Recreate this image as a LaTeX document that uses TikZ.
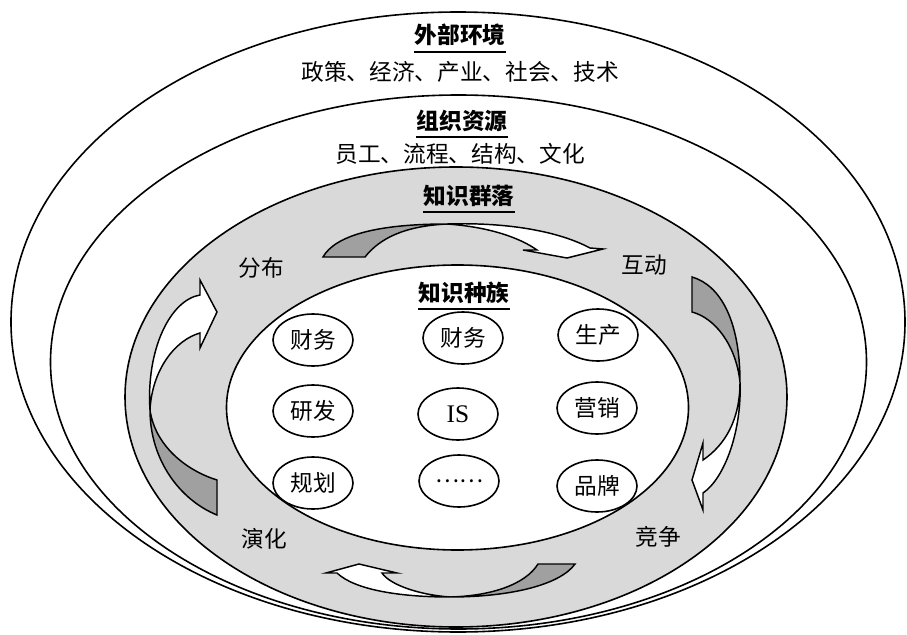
\documentclass[tikz,border=0pt]{standalone}
\usepackage{fontspec}
\setmainfont{Liberation Serif}
\newfontfamily\cjk{Noto Sans CJK SC}
\usetikzlibrary{shapes.geometric}
\definecolor{ringgray}{RGB}{217,217,217}
\definecolor{tailgray}{RGB}{160,160,160}
\begin{document}
\begin{tikzpicture}[x=0.75pt,y=-0.75pt,
  ring/.style={ellipse, draw, line width=1.2pt, inner sep=0pt},
  sp/.style={ellipse, draw, line width=1.2pt, minimum width=60pt, minimum height=39pt, inner sep=0pt, font=\cjk\fontsize{17}{20}\selectfont},
  lbl/.style={font=\cjk\fontsize{17}{20}\selectfont, inner sep=0pt},
  hdr/.style={font=\cjk\bfseries\fontsize{17}{20}\selectfont, inner sep=0pt},
  uline/.style={line width=1.5pt},
  arr/.style={draw, line width=1.1pt, line join=miter},
]
\useasboundingbox (0,0) rectangle (907,635);
% rings
\node[ring, fill=white, minimum width=670.5pt, minimum height=465pt] (env) at (458,322) {};
\node[ring, fill=white, minimum width=612pt, minimum height=400.5pt] (org) at (458.5,362) {};
\node[ring, fill=ringgray, minimum width=496.5pt, minimum height=345pt] (comm) at (456,397) {};
% arrows: top
\path[arr, fill=tailgray] (323,257) .. controls (335,236) and (375,224) .. (447,224)
  .. controls (405,226) and (380,238) .. (365,257) -- cycle;
\path[arr, fill=white] (447,224) .. controls (510,222) and (560,232) .. (590,248)
  -- (603,249) -- (567,258) -- (523,250) -- (537,250)
  .. controls (520,238) and (490,227) .. (447,224) -- cycle;
% right
\path[arr, fill=tailgray] (692,277) .. controls (720,285) and (740,320) .. (740,382)
  .. controls (736,345) and (715,318) .. (692,312) -- cycle;
\path[arr, fill=white] (740,382) .. controls (742,430) and (725,478) .. (703,493)
  -- (703,510) -- (692,480) -- (703,443) -- (703,460)
  .. controls (725,445) and (740,420) .. (740,382) -- cycle;
% left
\path[arr, fill=tailgray] (217,515) .. controls (180,500) and (150,460) .. (150,410)
  .. controls (155,445) and (185,470) .. (217,480) -- cycle;
\path[arr, fill=white] (150,410) .. controls (146,350) and (170,300) .. (200,295)
  -- (200,280) -- (217,312) -- (200,348) -- (200,333)
  .. controls (175,340) and (152,370) .. (150,410) -- cycle;
% bottom
\path[arr, fill=tailgray] (575,564) .. controls (560,585) and (510,597) .. (450,597)
  .. controls (490,596) and (525,585) .. (538,564) -- cycle;
\path[arr, fill=white] (450,597) .. controls (400,597) and (355,590) .. (337,573)
  -- (326,573) -- (359,564) -- (397,573) -- (382,573)
  .. controls (390,585) and (420,595) .. (450,597) -- cycle;
% inner population ellipse
\node[ring, fill=white, minimum width=346.5pt, minimum height=213.75pt] (pop) at (457.5,407.5) {};
% small ellipses
\node[sp] (f1) at (313,340) {财务};
\node[sp] (f2) at (463,338) {财务};
\node[sp] (f3) at (598,335) {生产};
\node[sp] (r1) at (313,411) {研发};
\node[sp, font=\rmfamily\fontsize{19}{22}\selectfont] (r2) at (458,414) {IS};
\node[sp] (r3) at (597,408) {营销};
\node[sp] (g1) at (313,483) {规划};
\node[sp] (g2) at (459,481) {……};
\node[sp] (g3) at (597,486) {品牌};
% headers
\node[hdr] (h1) at (460,35) {外部环境};
\draw[uline] ([yshift=-4pt]h1.south west) -- ([yshift=-4pt]h1.south east);
\node[lbl] (t1) at (460,72) {政策、经济、产业、社会、技术};
\node[hdr] (h2) at (462,121) {组织资源};
\draw[uline] ([yshift=-4pt]h2.south west) -- ([yshift=-4pt]h2.south east);
\node[lbl] (t2) at (460,154) {员工、流程、结构、文化};
\node[hdr] (h3) at (469,196) {知识群落};
\draw[uline] ([yshift=-4pt]h3.south west) -- ([yshift=-4pt]h3.south east);
\node[hdr] (h4) at (464,293) {知识种族};
\draw[uline] ([yshift=-4pt]h4.south west) -- ([yshift=-4pt]h4.south east);
% ring labels
\node[lbl] (l1) at (261,268) {分布};
\node[lbl] (l2) at (644,265) {互动};
\node[lbl] (l3) at (264,539) {演化};
\node[lbl] (l4) at (658,537) {竞争};
\end{tikzpicture}
\end{document}
